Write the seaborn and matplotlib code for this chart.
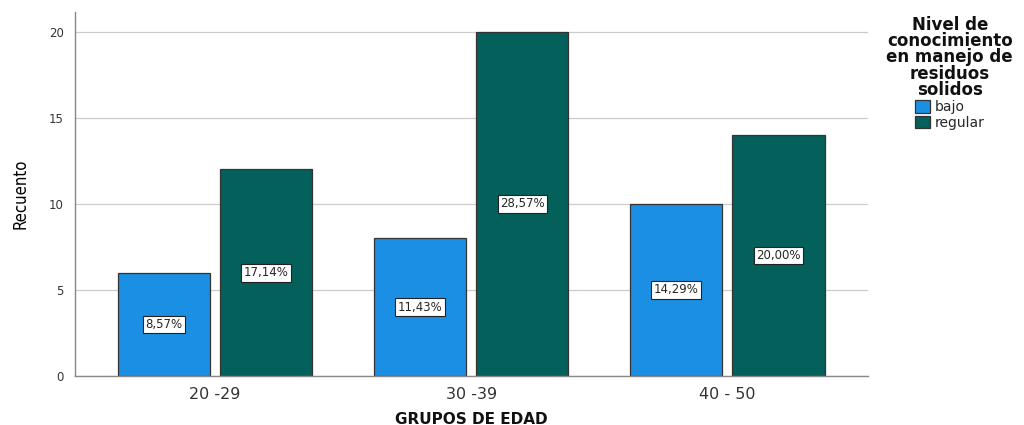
import matplotlib
matplotlib.use("Agg")
import matplotlib.pyplot as plt
import seaborn as sns
import pandas as pd

# Data
grupos = ["20 -29", "30 -39", "40 - 50"]
nivel = ["bajo", "regular"]
bajo = [6, 8, 10]
regular = [12, 20, 14]
etiquetas_bajo = ["8,57%", "11,43%", "14,29%"]
etiquetas_regular = ["17,14%", "28,57%", "20,00%"]

df = pd.DataFrame({
    "grupo": grupos * 2,
    "nivel": ["bajo"] * 3 + ["regular"] * 3,
    "recuento": bajo + regular,
})

sns.set_style("white")
plt.rcParams["font.family"] = ["DejaVu Sans"]

fig = plt.figure(figsize=(10.24, 4.25), dpi=100)
ax = fig.add_axes([0.0732, 0.1153, 0.7745, 0.8565])

colores = {"bajo": "#1a8fe3", "regular": "#03605a"}
sns.barplot(data=df, x="grupo", y="recuento", hue="nivel", order=grupos,
            hue_order=nivel, palette=colores, width=0.8, gap=0.1,
            edgecolor="#333333", linewidth=0.9, saturation=1, ax=ax)

# Percentage labels in the middle of each bar
for cont, textos in zip(ax.containers, [etiquetas_bajo, etiquetas_regular]):
    for barra, txt in zip(cont, textos):
        ax.text(barra.get_x() + barra.get_width() / 2, barra.get_height() / 2,
                txt, ha="center", va="center", fontsize=8.5,
                bbox=dict(boxstyle="square,pad=0.2", fc="white",
                          ec="#222222", lw=0.8))

ax.set_ylim(0, 21.15)
ax.set_xlim(-0.547, 2.55)
ax.set_yticks([0, 5, 10, 15, 20])
ax.yaxis.grid(True, color="#cccccc", linewidth=0.9)
ax.set_axisbelow(True)
ax.tick_params(axis="y", labelsize=8.5, colors="#333333", length=0, pad=8)
ax.tick_params(axis="x", labelsize=11.5, colors="#333333", length=0, pad=8)
for s in ["top", "right"]:
    ax.spines[s].set_visible(False)
for s in ["left", "bottom"]:
    ax.spines[s].set_color("#888888")
    ax.spines[s].set_linewidth(1.0)

ax.set_xlabel("GRUPOS DE EDAD", fontsize=11, fontweight="bold", labelpad=7,
              color="#111111")
ax.set_ylabel("Recuento", fontsize=12, fontstretch="condensed", labelpad=14,
              color="black")

leg = ax.legend(title="Nivel de\nconocimiento\nen manejo de\nresiduos\nsolidos",
                loc="upper center", bbox_to_anchor=(1.103, 1.005), frameon=False,
                fontsize=10, title_fontproperties={"weight": "bold", "size": 12},
                handlelength=1.1, handleheight=1.0, handletextpad=0.3,
                labelspacing=0.1, borderaxespad=0, alignment="center")
leg.get_title().set_multialignment("center")
leg.get_title().set_linespacing(0.88)
leg.get_title().set_color("#111111")
for h in leg.legend_handles:
    h.set_edgecolor("#333333")

fig.savefig("out.png", dpi=100)
